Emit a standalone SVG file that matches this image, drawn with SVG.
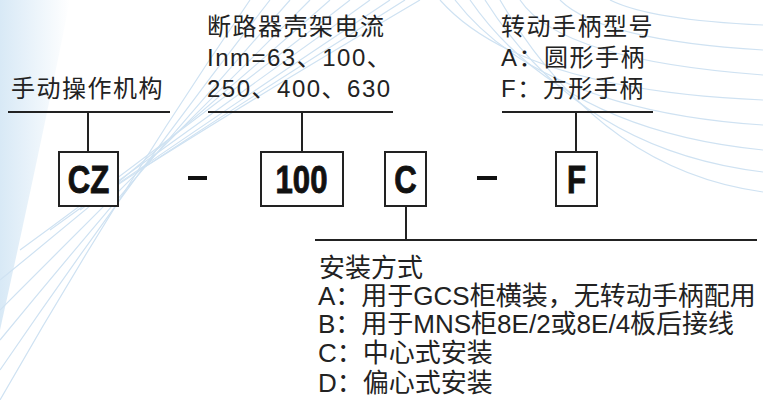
<svg xmlns="http://www.w3.org/2000/svg" width="763" height="400" viewBox="0 0 763 400">
<defs>
<style>
.t{font-family:"Liberation Sans","Noto Sans CJK SC",sans-serif;font-size:24px;fill:#222;letter-spacing:1.5px}
.b{font-family:"Liberation Sans","Noto Sans CJK SC",sans-serif;font-size:26px;fill:#222}
.k{font-family:"Liberation Sans",sans-serif;font-weight:bold;font-size:38px;fill:#111;stroke:#111;stroke-width:0.9;text-anchor:middle}
.bx{fill:#fff;stroke:#222;stroke-width:2}
.ln{stroke:#222;stroke-width:2;fill:none}
.bg{stroke:#cfe2f2;stroke-width:1.2;fill:none}
</style>
<linearGradient id="wash" x1="0" y1="0" x2="1" y2="0">
<stop offset="0" stop-color="#d8e9f6"/>
<stop offset="1" stop-color="#d8e9f6" stop-opacity="0"/>
</linearGradient>
</defs>
<rect width="763" height="400" fill="#fff"/>
<g id="background">
<path d="M0 0 H70 Q40 150 0 330 Z" fill="url(#wash)"/>
<path class="bg" d="M0 400 Q120 190 250 0"/>
<path class="bg" d="M0 370 Q130 180 270 0"/>
<path class="bg" d="M0 340 Q140 170 290 0"/>
<path class="bg" d="M0 310 Q150 160 310 0"/>
<path class="bg" d="M0 280 Q160 150 330 0"/>
<path class="bg" d="M20 250 Q170 140 350 0"/>
<path class="bg" d="M50 230 Q190 130 370 0"/>
<path class="bg" d="M80 210 Q210 120 390 0"/>
<path class="bg" d="M110 190 Q230 110 405 0"/>
<path class="bg" d="M140 170 Q250 100 420 0"/>
<path class="bg" d="M440 0 Q520 90 763 100"/>
<path class="bg" d="M455 0 Q540 110 763 125"/>
<path class="bg" d="M470 0 Q560 130 763 150"/>
<path class="bg" d="M485 0 Q580 150 763 172"/>
<path class="bg" d="M500 0 Q600 170 763 192"/>
<path class="bg" d="M520 0 Q560 60 763 75"/>
<path class="bg" d="M560 0 Q600 40 763 50"/>
<path class="bg" d="M610 0 Q650 20 763 25"/>
</g>
<g id="connectors">
<line class="ln" x1="8" y1="112" x2="170" y2="112"/>
<line class="ln" x1="88" y1="112" x2="88" y2="152"/>
<line class="ln" x1="208" y1="112" x2="393" y2="112"/>
<line class="ln" x1="302" y1="112" x2="302" y2="152"/>
<line class="ln" x1="502" y1="112" x2="653" y2="112"/>
<line class="ln" x1="576" y1="112" x2="576" y2="152"/>
<line class="ln" x1="406" y1="206" x2="406" y2="240"/>
<line class="ln" x1="315" y1="240" x2="757" y2="240"/>
<line x1="188" y1="178" x2="207" y2="178" stroke="#111" stroke-width="4"/>
<line x1="477" y1="178" x2="497" y2="178" stroke="#111" stroke-width="4"/>
</g>
<g id="label-operating">
<text class="t" x="11" y="97">手动操作机构</text>
</g>
<g id="label-current">
<text class="t" x="207" y="35" letter-spacing="2">断路器壳架电流</text>
<text class="t" x="207" y="66" letter-spacing="1">Inm=63、100、</text>
<text class="t" x="207" y="97">250、400、630</text>
</g>
<g id="label-handle">
<text class="t" x="501" y="35">转动手柄型号</text>
<text class="t" x="501" y="66">A：圆形手柄</text>
<text class="t" x="501" y="97">F：方形手柄</text>
</g>
<g id="node-cz">
<rect class="bx" x="59" y="152" width="59" height="54"/>
<text class="k" transform="translate(88.5 193) scale(0.82 1)">CZ</text>
</g>
<g id="node-100">
<rect class="bx" x="261" y="152" width="82" height="54"/>
<text class="k" transform="translate(301.5 193) scale(0.82 1)">100</text>
</g>
<g id="node-c">
<rect class="bx" x="385" y="152" width="41" height="54"/>
<text class="k" transform="translate(405.5 193) scale(0.82 1)">C</text>
</g>
<g id="node-f">
<rect class="bx" x="556" y="152" width="41" height="54"/>
<text class="k" transform="translate(576.5 193) scale(0.82 1)">F</text>
</g>
<g id="label-mount">
<text class="b" x="319" y="277">安装方式</text>
<text class="b" x="318" y="305">A：用于GCS柜横装，无转动手柄配用</text>
<text class="b" x="318" y="333">B：用于MNS柜8E/2或8E/4板后接线</text>
<text class="b" x="318" y="362">C：中心式安装</text>
<text class="b" x="318" y="392">D：偏心式安装</text>
</g>
</svg>
